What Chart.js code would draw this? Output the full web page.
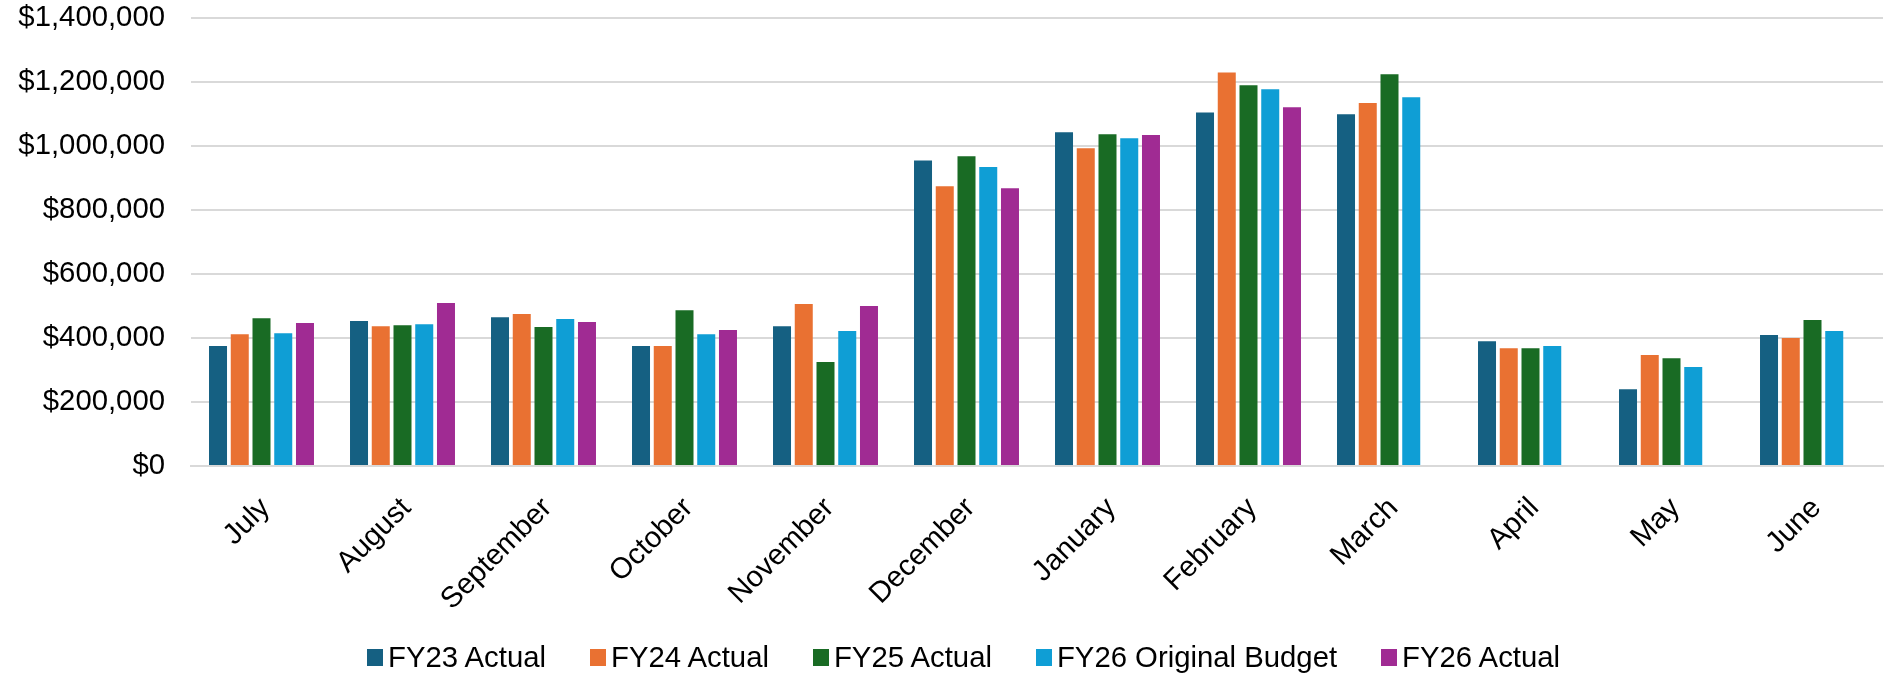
<!DOCTYPE html>
<html>
<head>
<meta charset="utf-8">
<script src="https://cdn.jsdelivr.net/npm/chart.js@4"></script>
<style>
  html, body { margin: 0; padding: 0; background: #fff; }
  #wrap { position: relative; width: 1886px; height: 674px; }
  #legend {
    position: absolute; left: 367px; top: 639px; height: 36px;
    display: flex; align-items: center;
    font-family: "Liberation Sans", Arial, sans-serif; font-size: 29.3px; color: #000;
    white-space: nowrap;
  }
  .item { display: flex; align-items: center; margin-right: 44px; }
  .box { width: 16px; height: 17px; margin-right: 5px; }
</style>
</head>
<body>
<div id="wrap">
  <canvas id="c" width="1886" height="674"></canvas>
  <div id="legend"></div>
</div>
<script>
// Monthly revenue by fiscal year
const months = ['July', 'August', 'September', 'October', 'November', 'December',
                'January', 'February', 'March', 'April', 'May', 'June'];
const seriesNames = ['FY23 Actual', 'FY24 Actual', 'FY25 Actual', 'FY26 Original Budget', 'FY26 Actual'];
const seriesColors = ['#156082', '#E97132', '#196B24', '#0F9ED5', '#A02B93'];

const fy23Actual = [375000, 453000, 465000, 375000, 437000, 955000, 1043000, 1105000, 1099000, 390000, 240000, 409000];
const fy24Actual = [412000, 437000, 475000, 375000, 506000, 874000, 993000, 1230000, 1134000, 368000, 347000, 400000];
const fy25Actual = [462000, 440000, 434000, 487000, 325000, 968000, 1037000, 1190000, 1224000, 368000, 337000, 456000];
const fy26Budget = [415000, 443000, 459000, 412000, 422000, 934000, 1024000, 1177000, 1152000, 375000, 309000, 422000];
const fy26Actual = [447000, 509000, 450000, 425000, 500000, 868000, 1034000, 1121000, null, null, null, null];

const yTicks = [0, 200000, 400000, 600000, 800000, 1000000, 1200000, 1400000];

const seriesValues = [fy23Actual, fy24Actual, fy25Actual, fy26Budget, fy26Actual];
const FONT = '"Liberation Sans", Arial, sans-serif';
const FONT_SIZE = 29.3;

const datasets = seriesValues.map((vals, i) => ({
  label: seriesNames[i],
  data: vals,
  backgroundColor: seriesColors[i],
  borderWidth: 0,
  categoryPercentage: 0.771,
  barPercentage: 0.828
}));

new Chart(document.getElementById('c'), {
  type: 'bar',
  data: { labels: months, datasets },
  options: {
    responsive: false,
    animation: false,
    layout: { padding: { top: 18, left: 0, right: 3, bottom: 0 } },
    plugins: { legend: { display: false }, tooltip: { enabled: false } },
    scales: {
      x: {
        z: 1, // axis line drawn over the bar bases
        grid: { display: false },
        border: { display: true, color: '#d9d9d9', width: 2 },
        ticks: {
          autoSkip: false,
          minRotation: 45,
          maxRotation: 45,
          padding: 17,
          labelOffset: 4,
          color: '#000',
          font: { family: FONT, size: FONT_SIZE }
        },
        afterFit: (s) => {
          s.height = 208;
          s.paddingLeft = 0;
          s.paddingRight = 0;
        }
      },
      y: {
        min: yTicks[0],
        max: yTicks[yTicks.length - 1],
        afterBuildTicks: (s) => { s.ticks = yTicks.map(v => ({ value: v })); },
        grid: { color: '#d9d9d9', lineWidth: 2, drawTicks: false },
        border: { display: false },
        ticks: {
          padding: 26,
          color: '#000',
          font: { family: FONT, size: FONT_SIZE },
          callback: (v) => '$' + Number(v).toLocaleString('en-US')
        },
        afterFit: (s) => {
          s.width = 191;
          s.paddingTop = 0;
          s.paddingBottom = 0;
        }
      }
    }
  }
});

// Legend row
const legend = document.getElementById('legend');
seriesNames.forEach((name, i) => {
  const item = document.createElement('div');
  item.className = 'item';
  const box = document.createElement('span');
  box.className = 'box';
  box.style.background = seriesColors[i];
  const txt = document.createElement('span');
  txt.textContent = name;
  item.appendChild(box);
  item.appendChild(txt);
  legend.appendChild(item);
});
</script>
</body>
</html>
